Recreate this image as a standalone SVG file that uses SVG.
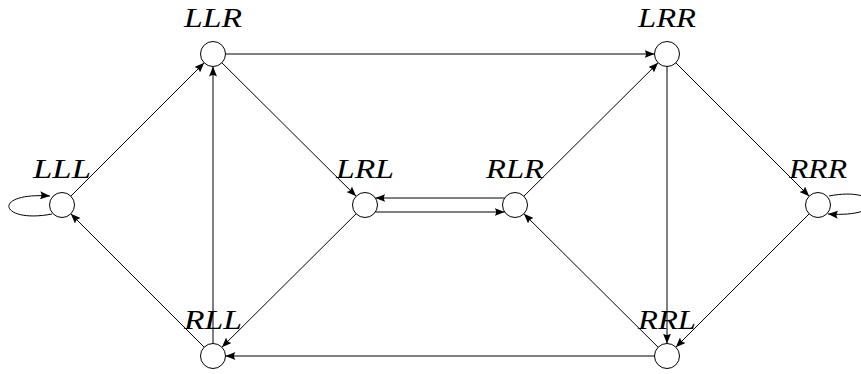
<svg xmlns="http://www.w3.org/2000/svg" width="861" height="374" viewBox="0 0 861 374">
  <style>
    .node circle { fill: #ffffff; stroke: #000000; stroke-width: 1; }
    .node text { font-family: "Liberation Serif", "Times New Roman", serif; font-style: italic; font-size: 27px; fill: #000000; text-anchor: middle; }
    .edges path { fill: none; stroke: #000000; stroke-width: 1; marker-end: url(#arrow); }
  </style>
  <defs>
    <marker id="arrow" viewBox="0 0 10 8" refX="10" refY="4" markerWidth="10" markerHeight="8" markerUnits="userSpaceOnUse" orient="auto">
      <path d="M0,0 Q3,4 0,8 L10,4 Z" fill="#000000"/>
    </marker>
  </defs>

  <rect width="861" height="374" fill="#ffffff"/>

  <!-- transitions -->
  <g id="edges" class="edges">
    <path d="M70.8,196.2 L204.2,62.8"/>
    <path d="M204.2,347.2 L70.8,213.8"/>
    <path d="M213,343.5 L213,66.5"/>
    <path d="M221.9,62.8 L356.1,196.2"/>
    <path d="M225.5,54 L654.5,54"/>
    <path d="M356.1,213.8 L221.9,347.2"/>
    <path d="M504.6,198 L375.4,198"/>
    <path d="M375.4,212 L504.6,212"/>
    <path d="M523.9,196.2 L658.1,62.8"/>
    <path d="M658.1,347.2 L523.9,213.8"/>
    <path d="M667,66.5 L667,343.5"/>
    <path d="M675.8,62.8 L809.2,196.2"/>
    <path d="M809.2,213.8 L675.8,347.2"/>
    <path d="M654.5,356 L225.5,356"/>
    <!-- self loops -->
    <path d="M52,214 C0,224 -10,192 50,196"/>
    <path d="M829,196 C880,186 890,218 828,214"/>
  </g>

  <g id="LLL" class="node"><circle cx="62" cy="205" r="12.5"/><text x="62" y="178" textLength="58" lengthAdjust="spacingAndGlyphs">LLL</text></g>
  <g id="LLR" class="node"><circle cx="213" cy="54" r="12.5"/><text x="213" y="27" textLength="58" lengthAdjust="spacingAndGlyphs">LLR</text></g>
  <g id="LRL" class="node"><circle cx="365" cy="205" r="12.5"/><text x="365" y="178" textLength="58" lengthAdjust="spacingAndGlyphs">LRL</text></g>
  <g id="RLR" class="node"><circle cx="515" cy="205" r="12.5"/><text x="515" y="178" textLength="58" lengthAdjust="spacingAndGlyphs">RLR</text></g>
  <g id="LRR" class="node"><circle cx="667" cy="54" r="12.5"/><text x="667" y="27" textLength="58" lengthAdjust="spacingAndGlyphs">LRR</text></g>
  <g id="RRR" class="node"><circle cx="818" cy="205" r="12.5"/><text x="818" y="178" textLength="58" lengthAdjust="spacingAndGlyphs">RRR</text></g>
  <g id="RLL" class="node"><circle cx="213" cy="356" r="12.5"/><text x="213" y="329" textLength="58" lengthAdjust="spacingAndGlyphs">RLL</text></g>
  <g id="RRL" class="node"><circle cx="667" cy="356" r="12.5"/><text x="667" y="329" textLength="58" lengthAdjust="spacingAndGlyphs">RRL</text></g>
</svg>
